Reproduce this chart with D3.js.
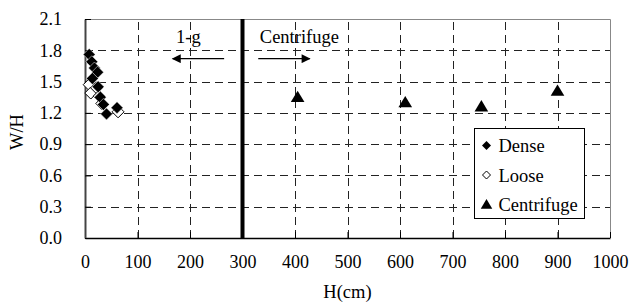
<!DOCTYPE html>
<html>
<head>
<meta charset="utf-8">
<script src="https://cdn.jsdelivr.net/npm/d3@7"></script>
<style>
  body { margin: 0; background: #fff; }
  svg text { fill: #000; }
</style>
</head>
<body>
<div id="chart"></div>
<script>
(function() {

    var width = 634,
    height = 303;

    var serif = "Liberation Serif, Times New Roman, Times, DejaVu Serif, serif";

    // data
    var denseH = [8, 13, 18, 24, 14, 25, 29, 35, 41, 61];
    var denseWH = [1.76, 1.69, 1.63, 1.59, 1.53, 1.45, 1.35, 1.28, 1.19, 1.25];

    var looseH = [8, 11, 22, 27, 32, 63];
    var looseWH = [1.47, 1.39, 1.44, 1.36, 1.29, 1.21];

    var centH = [405, 610, 755, 900];
    var centWH = [1.35, 1.30, 1.26, 1.41];

    var xTicks = [0, 100, 200, 300, 400, 500, 600, 700, 800, 900, 1000];
    var yTicks = [0, 0.3, 0.6, 0.9, 1.2, 1.5, 1.8, 2.1];

    var legendNames = ["Dense", "Loose", "Centrifuge"];

    var margin = {left: 85, right: 24, top: 19, bottom: 65};

    var svg = d3.select("#chart")
    .append("svg")
    .attr("width", width)
    .attr("height", height)
    .style("font-family", serif)

    var x = d3.scaleLinear().domain([0, 1000]).range([margin.left, width - margin.right])
    var y = d3.scaleLinear().domain([0, 2.1]).range([height - margin.bottom, margin.top])

    // dashed grid
    svg.append("g")
    .selectAll("line")
    .data(yTicks.slice(1, -1))
    .enter().append("line")
    .attr("x1", x(0))
    .attr("x2", x(1000))
    .attr("y1", function(d) { return Math.round(y(d)) + 0.5 })
    .attr("y2", function(d) { return Math.round(y(d)) + 0.5 })
    .attr("stroke", "#222")
    .attr("stroke-dasharray", "8,5")

    svg.append("g")
    .selectAll("line")
    .data(xTicks.slice(1, -1))
    .enter().append("line")
    .attr("x1", function(d) { return Math.round(x(d)) + 0.5 })
    .attr("x2", function(d) { return Math.round(x(d)) + 0.5 })
    .attr("y1", y(0))
    .attr("y2", y(2.1))
    .attr("stroke", "#222")
    .attr("stroke-dasharray", "8,5")

    // top and right border
    svg.append("path")
    .attr("d", "M" + x(0) + "," + (y(2.1) + 0.5) + "H" + (x(1000) + 0.5) + "V" + y(0))
    .attr("fill", "none")
    .attr("stroke", "#888")

    // axes with inward ticks
    var xAxis = svg.append("g")
    .attr("transform", "translate(0," + y(0) + ")")
    .call(d3.axisBottom(x).tickValues(xTicks).tickSizeInner(-6).tickSizeOuter(0).tickPadding(17).tickFormat(d3.format("d")))
    xAxis.attr("font-family", null).attr("font-size", 18)
    xAxis.select(".domain").attr("stroke", "#000").attr("stroke-width", 1.5)

    var yAxis = svg.append("g")
    .attr("transform", "translate(" + x(0) + ",0)")
    .call(d3.axisLeft(y).tickValues(yTicks).tickSizeInner(-6).tickSizeOuter(0).tickPadding(23).tickFormat(d3.format(".1f")))
    yAxis.attr("font-family", null).attr("font-size", 18)
    yAxis.select(".domain").attr("stroke", "#444").attr("stroke-width", 2)

    // 1-g / centrifuge divider
    svg.append("line")
    .attr("x1", x(300)).attr("x2", x(300))
    .attr("y1", y(2.1)).attr("y2", y(0))
    .attr("stroke", "#000")
    .attr("stroke-width", 4)

    // arrows
    var defs = svg.append("defs")
    defs.append("marker")
    .attr("id", "head")
    .attr("viewBox", "0 0 10 10")
    .attr("refX", 9).attr("refY", 5)
    .attr("markerWidth", 10).attr("markerHeight", 9)
    .attr("markerUnits", "userSpaceOnUse")
    .attr("orient", "auto")
    .append("path")
    .attr("d", "M0,0L10,5L0,10Z")
    .attr("fill", "#000")

    svg.append("line")
    .attr("x1", x(265)).attr("x2", x(167))
    .attr("y1", y(1.72)).attr("y2", y(1.72))
    .attr("stroke", "#000").attr("stroke-width", 1.3)
    .attr("marker-end", "url(#head)")

    svg.append("line")
    .attr("x1", x(330)).attr("x2", x(428))
    .attr("y1", y(1.72)).attr("y2", y(1.72))
    .attr("stroke", "#000").attr("stroke-width", 1.3)
    .attr("marker-end", "url(#head)")

    svg.append("text")
    .attr("x", x(197)).attr("y", y(1.87))
    .attr("text-anchor", "middle")
    .attr("font-size", 18.5)
    .text("1-g")

    svg.append("text")
    .attr("x", x(333)).attr("y", y(1.87))
    .attr("font-size", 18.5)
    .text("Centrifuge")

    // marker shapes
    function diamond(r) {
        return "M0," + (-r) + "L" + r + ",0L0," + r + "L" + (-r) + ",0Z"
    }
    function triangle(r) {
        return "M0," + (-r) + "L" + (r * 1.05) + "," + (r * 0.75) + "L" + (-r * 1.05) + "," + (r * 0.75) + "Z"
    }

    svg.append("g")
    .selectAll("path")
    .data(d3.range(looseH.length))
    .enter().append("path")
    .attr("d", diamond(6))
    .attr("transform", function(i) { return "translate(" + x(looseH[i]) + "," + y(looseWH[i]) + ")" })
    .attr("fill", "#fff")
    .attr("stroke", "#000")

    svg.append("g")
    .selectAll("path")
    .data(d3.range(denseH.length))
    .enter().append("path")
    .attr("d", diamond(6))
    .attr("transform", function(i) { return "translate(" + x(denseH[i]) + "," + y(denseWH[i]) + ")" })
    .attr("fill", "#000")
    .attr("stroke", "#fff")
    .attr("stroke-width", 0.5)

    svg.append("g")
    .selectAll("path")
    .data(d3.range(centH.length))
    .enter().append("path")
    .attr("d", triangle(6.5))
    .attr("transform", function(i) { return "translate(" + x(centH[i]) + "," + y(centWH[i]) + ")" })
    .attr("fill", "#000")

    // legend
    var legend = svg.append("g")
    .attr("transform", "translate(474.5,128.5)")

    legend.append("rect")
    .attr("width", 110).attr("height", 90)
    .attr("fill", "#fff")
    .attr("stroke", "#000")

    var shapes = [diamond(4.5), diamond(4), triangle(5.5)]
    var fills = ["#000", "#fff", "#000"]

    var items = legend.selectAll(".item")
    .data(legendNames)
    .enter().append("g")
    .attr("class", "item")
    .attr("transform", function(d, i) { return "translate(0," + (17 + i * 29.5) + ")" })

    items.append("path")
    .attr("d", function(d, i) { return shapes[i] })
    .attr("transform", "translate(12,0)")
    .attr("fill", function(d, i) { return fills[i] })
    .attr("stroke", "#000")
    .attr("stroke-width", function(d, i) { return i === 1 ? 1 : 0 })

    items.append("text")
    .attr("x", 24)
    .attr("y", 6.5)
    .attr("font-size", 18.5)
    .text(function(d) { return d })

    // axis titles
    svg.append("text")
    .attr("x", (x(0) + x(1000)) / 2)
    .attr("y", 298)
    .attr("text-anchor", "middle")
    .attr("font-size", 18.5)
    .text("H(cm)")

    svg.append("text")
    .attr("transform", "translate(23,132) rotate(-90)")
    .attr("text-anchor", "middle")
    .attr("font-size", 18.5)
    .text("W/H")

})();
</script>
</body>
</html>
